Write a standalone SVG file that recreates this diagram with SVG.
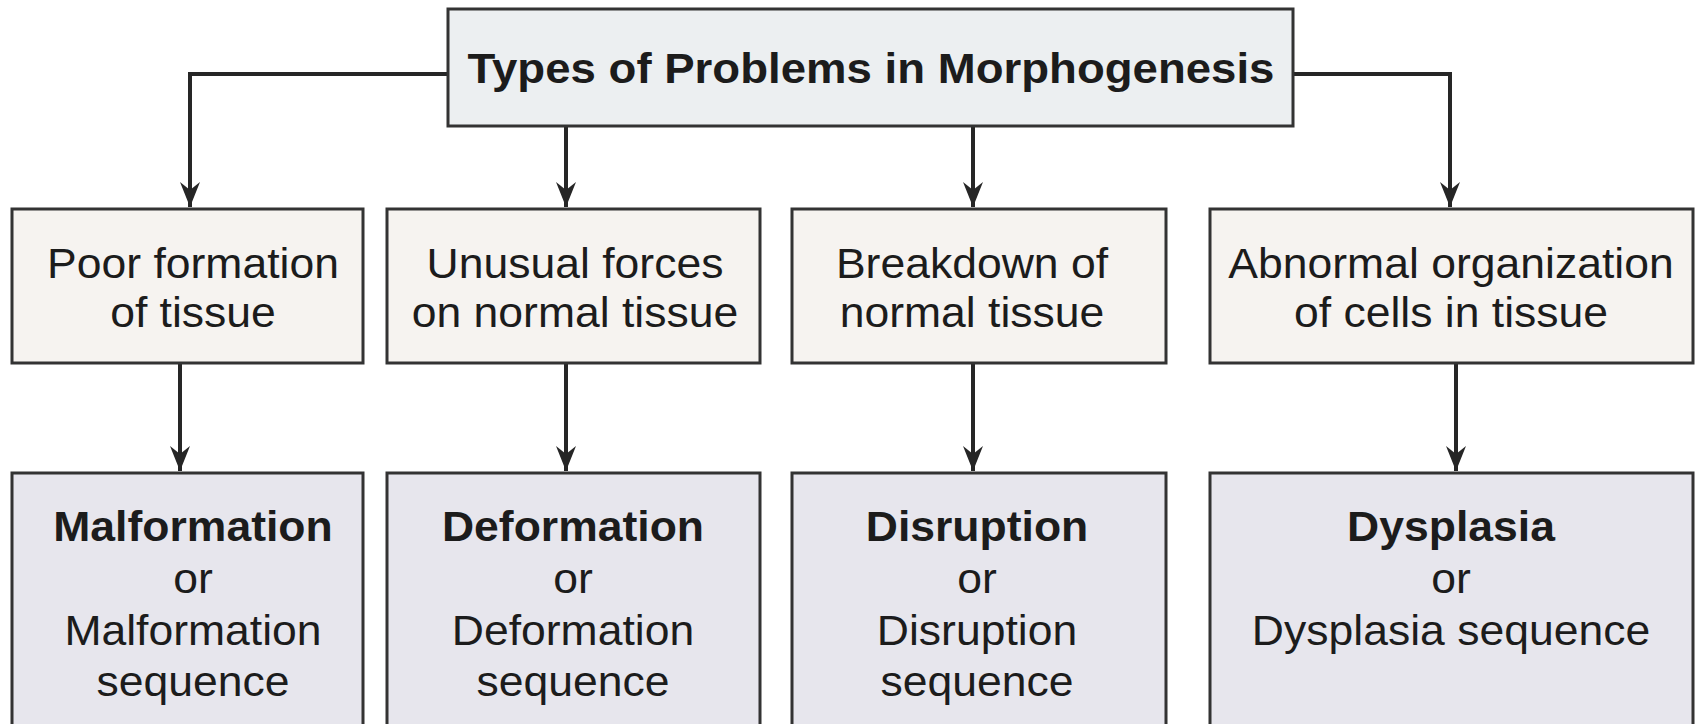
<svg xmlns="http://www.w3.org/2000/svg" width="1699" height="724" viewBox="0 0 1699 724">
  <style>
    .box { stroke: #333333; stroke-width: 3; }
    .top { fill: #eceff1; }
    .mid { fill: #f6f3f0; }
    .bot { fill: #e7e6ed; }
    .conn { fill: none; stroke: #262626; stroke-width: 4; }
    text { font-family: "Liberation Sans", Arial, Helvetica, sans-serif; fill: #1c1c1c; text-anchor: middle; }
    .t { font-size: 43px; font-weight: bold; }
    .r { font-size: 42px; }
    .b { font-size: 42px; font-weight: bold; }
  </style>
  <defs>
    <marker id="ah" markerUnits="userSpaceOnUse" markerWidth="30" markerHeight="26" viewBox="-28 -13 30 26" refX="0" refY="0" orient="auto">
      <path d="M0,0 L-25,-10 L-17,0 L-25,10 Z" fill="#262626"/>
    </marker>
  </defs>
  <rect width="1699" height="724" fill="#ffffff"/>

  <g id="connectors">
    <path class="conn" d="M448,74 H190 V207" marker-end="url(#ah)"/>
    <path class="conn" d="M566,126 V207" marker-end="url(#ah)"/>
    <path class="conn" d="M973,126 V207" marker-end="url(#ah)"/>
    <path class="conn" d="M1293,74 H1450 V207" marker-end="url(#ah)"/>
    <path class="conn" d="M180,363 V471" marker-end="url(#ah)"/>
    <path class="conn" d="M566,363 V471" marker-end="url(#ah)"/>
    <path class="conn" d="M973,363 V471" marker-end="url(#ah)"/>
    <path class="conn" d="M1456,363 V471" marker-end="url(#ah)"/>
  </g>

  <g id="root">
    <rect class="box top" x="448" y="9" width="845" height="117"/>
    <g transform="translate(871,0) scale(1.06,1)"><text class="t" x="0" y="83">Types of Problems in Morphogenesis</text></g>
  </g>

  <g id="poor-formation">
    <rect class="box mid" x="12" y="209" width="351" height="154"/>
    <g transform="translate(193,0) scale(1.06,1)">
      <text class="r" x="0" y="278">Poor formation</text>
      <text class="r" x="0" y="327">of tissue</text>
    </g>
  </g>
  <g id="unusual-forces">
    <rect class="box mid" x="387" y="209" width="373" height="154"/>
    <g transform="translate(575,0) scale(1.06,1)">
      <text class="r" x="0" y="278">Unusual forces</text>
      <text class="r" x="0" y="327">on normal tissue</text>
    </g>
  </g>
  <g id="breakdown">
    <rect class="box mid" x="792" y="209" width="374" height="154"/>
    <g transform="translate(972,0) scale(1.06,1)">
      <text class="r" x="0" y="278">Breakdown of</text>
      <text class="r" x="0" y="327">normal tissue</text>
    </g>
  </g>
  <g id="abnormal-organization">
    <rect class="box mid" x="1210" y="209" width="483" height="154"/>
    <g transform="translate(1451,0) scale(1.06,1)">
      <text class="r" x="0" y="278">Abnormal organization</text>
      <text class="r" x="0" y="327">of cells in tissue</text>
    </g>
  </g>

  <g id="malformation">
    <rect class="box bot" x="12" y="473" width="351" height="270"/>
    <g transform="translate(193,0) scale(1.06,1)">
      <text class="b" x="0" y="541">Malformation</text>
      <text class="r" x="0" y="593">or</text>
      <text class="r" x="0" y="645">Malformation</text>
      <text class="r" x="0" y="696">sequence</text>
    </g>
  </g>
  <g id="deformation">
    <rect class="box bot" x="387" y="473" width="373" height="270"/>
    <g transform="translate(573,0) scale(1.06,1)">
      <text class="b" x="0" y="541">Deformation</text>
      <text class="r" x="0" y="593">or</text>
      <text class="r" x="0" y="645">Deformation</text>
      <text class="r" x="0" y="696">sequence</text>
    </g>
  </g>
  <g id="disruption">
    <rect class="box bot" x="792" y="473" width="374" height="270"/>
    <g transform="translate(977,0) scale(1.06,1)">
      <text class="b" x="0" y="541">Disruption</text>
      <text class="r" x="0" y="593">or</text>
      <text class="r" x="0" y="645">Disruption</text>
      <text class="r" x="0" y="696">sequence</text>
    </g>
  </g>
  <g id="dysplasia">
    <rect class="box bot" x="1210" y="473" width="483" height="270"/>
    <g transform="translate(1451,0) scale(1.06,1)">
      <text class="b" x="0" y="541">Dysplasia</text>
      <text class="r" x="0" y="593">or</text>
      <text class="r" x="0" y="645">Dysplasia sequence</text>
    </g>
  </g>
</svg>
